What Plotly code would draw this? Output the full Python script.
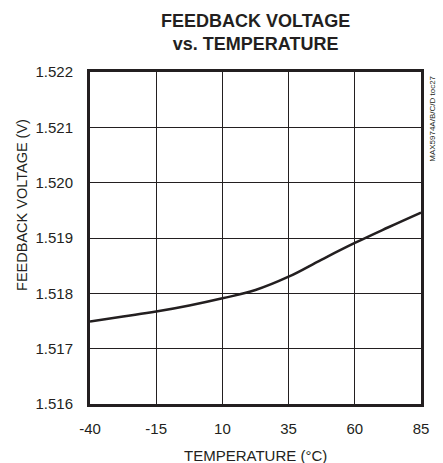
import plotly.graph_objects as go

temperature = [-40, -27.5, -15, -2.5, 10, 22.5, 35, 47.5, 60, 72.5, 85]
feedback_v = [1.51749, 1.51758, 1.51767, 1.51778, 1.51791, 1.51806, 1.51830, 1.51861, 1.51891, 1.51919, 1.51946]
x_ticks = [-40, -15, 10, 35, 60, 85]
y_ticks = [1.516, 1.517, 1.518, 1.519, 1.520, 1.521, 1.522]
y_tick_labels = ["1.516", "1.517", "1.518", "1.519", "1.520", "1.521", "1.522"]

FONT = "Liberation Sans Narrow, Arial Narrow, Liberation Sans, Arial, sans-serif"
INK = "#231f20"

fig = go.Figure()
fig.add_trace(go.Scatter(x=temperature, y=feedback_v, mode="lines",
                         line=dict(color=INK, width=2.5, shape="spline", smoothing=1.2),
                         showlegend=False, hoverinfo="skip"))

fig.update_layout(
    width=443, height=463,
    margin=dict(l=90, r=22, t=72, b=59),
    paper_bgcolor="white", plot_bgcolor="white",
    font=dict(family=FONT, color=INK, size=15),
    xaxis=dict(range=[-40, 85], tickvals=x_ticks, ticktext=[str(v) for v in x_ticks],
               showgrid=True, gridcolor=INK, gridwidth=1,
               showline=True, linecolor=INK, linewidth=3, mirror=True,
               ticks="", ticklabelstandoff=9, zeroline=False, automargin=False,
               tickfont=dict(size=15)),
    yaxis=dict(range=[1.516, 1.522], tickvals=y_ticks, ticktext=y_tick_labels,
               showgrid=True, gridcolor=INK, gridwidth=1,
               showline=True, linecolor=INK, linewidth=3, mirror=True,
               ticks="", ticklabelstandoff=11, zeroline=False, automargin=False,
               tickfont=dict(size=15)),
    annotations=[
        dict(text="<b>FEEDBACK VOLTAGE<br>vs. TEMPERATURE</b>",
             xref="paper", yref="paper", x=0.5, y=1.19,
             xanchor="center", yanchor="top", showarrow=False,
             font=dict(size=18, family=FONT, color=INK)),
        dict(text="FEEDBACK VOLTAGE (V)", textangle=-90,
             xref="paper", yref="paper", x=-0.204, y=0.601,
             xanchor="center", yanchor="middle", showarrow=False,
             font=dict(size=14.5, family=FONT, color=INK)),
        dict(text="TEMPERATURE (°C)",
             xref="paper", yref="paper", x=0.5, y=-0.154,
             xanchor="center", yanchor="middle", showarrow=False,
             font=dict(size=15, family=FONT, color=INK)),
        dict(text="MAX5974A/B/C/D toc27", textangle=-90,
             xref="paper", yref="paper", x=1.016, y=0.994,
             xanchor="left", yanchor="top", showarrow=False,
             font=dict(size=8, family=FONT, color=INK)),
    ],
)

fig.write_html("out.html", config={"displayModeBar": False},
               post_script="document.body.style.margin='0';")
